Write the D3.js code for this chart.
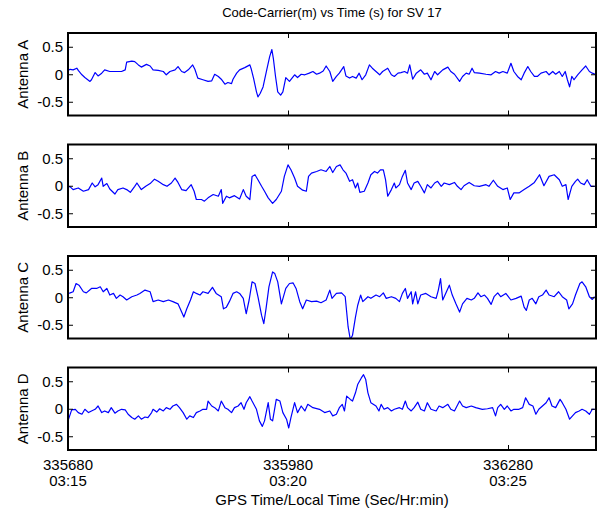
<!DOCTYPE html>
<html><head><meta charset="utf-8">
<script src="https://cdn.jsdelivr.net/npm/d3@7"></script>
<style>body{margin:0;background:#fff}svg{display:block}</style>
</head><body><svg id="c" width="605" height="512"></svg>
<script>
// ---- data ----
const T0 = 335680;                     // GPS seconds at start
const timeDomain = [335680, 336400];
const xTickValues = [335680, 335980, 336280];
const xTickLocal = ["03:15", "03:20", "03:25"];
const yTickValues = [-0.5, 0, 0.5];
const antennaNames = ["Antenna A", "Antenna B", "Antenna C", "Antenna D"];
const titleText = "Code-Carrier(m) vs Time (s) for SV 17";
const xLabelText = "GPS Time/Local Time (Sec/Hr:min)";

// [seconds after T0, code-carrier (m)]
const antennaA = [[0,0.07],[3,0.09],[7,0.08],[12,0.11],[14,0.07],[19,-0.01],[23,-0.06],[30,-0.13],[32,-0.10],[37,0.03],[41,-0.03],[46,0.02],[50,0.08],[57,0.05],[66,0.05],[73,0.05],[78,0.08],[80,0.22],[87,0.24],[91,0.23],[96,0.17],[100,0.13],[107,0.18],[112,0.15],[116,0.08],[123,0.07],[130,0.05],[134,-0.01],[139,0.05],[146,0.08],[150,0.14],[155,0.05],[159,0.03],[164,0.08],[170,0.17],[173,0.09],[177,-0.07],[184,-0.10],[191,-0.13],[196,-0.12],[200,0.0],[205,-0.04],[209,-0.09],[214,-0.18],[218,-0.15],[223,-0.17],[225,-0.09],[230,0.02],[234,0.08],[241,0.12],[248,0.17],[250,0.09],[253,-0.07],[257,-0.32],[259,-0.41],[262,-0.35],[266,-0.23],[271,0.08],[275,0.32],[278,0.45],[280,0.29],[283,-0.04],[286,-0.32],[290,-0.38],[293,-0.32],[297,-0.06],[302,-0.13],[309,-0.01],[313,-0.06],[318,0.0],[323,-0.01],[329,0.02],[334,0.05],[339,0.0],[343,0.02],[348,0.06],[352,0.15],[357,0.05],[361,-0.13],[366,-0.04],[370,0.02],[376,0.14],[379,-0.03],[384,-0.07],[388,-0.04],[393,-0.07],[397,0.02],[401,-0.10],[406,-0.01],[411,0.17],[415,0.11],[420,0.05],[425,-0.01],[429,0.05],[436,0.11],[441,-0.01],[445,-0.04],[450,0.02],[454,0.03],[459,0.05],[463,0.02],[466,0.17],[470,-0.09],[475,0.02],[481,0.08],[486,0.0],[490,0.02],[495,-0.10],[500,0.05],[504,-0.01],[511,0.08],[518,0.13],[522,0.05],[527,0.0],[534,-0.13],[538,-0.04],[543,0.02],[547,0.0],[551,0.11],[554,0.03],[561,0.02],[570,0.0],[577,-0.01],[583,0.05],[588,0.02],[593,0.05],[599,0.02],[604,0.20],[608,0.05],[613,-0.04],[618,-0.10],[622,0.02],[627,0.14],[631,0.05],[636,-0.04],[640,-0.04],[645,0.02],[652,0.05],[656,-0.01],[661,0.05],[665,0.0],[670,0.05],[674,-0.04],[678,0.05],[681,-0.10],[684,-0.23],[687,-0.04],[690,-0.10],[695,-0.01],[701,0.08],[706,0.15],[711,0.05],[715,0.02],[719,0.0]];

const antennaB = [[0,-0.01],[3,-0.02],[7,-0.07],[14,-0.04],[21,-0.10],[28,-0.07],[33,0.05],[37,-0.02],[41,0.02],[46,0.14],[48,-0.01],[53,0.04],[57,-0.06],[64,-0.15],[68,-0.07],[75,-0.04],[80,-0.07],[85,-0.12],[91,-0.01],[94,0.05],[100,-0.07],[106,-0.01],[112,0.04],[118,0.12],[123,0.08],[130,0.02],[135,-0.01],[141,0.05],[146,0.14],[150,0.06],[155,-0.07],[161,-0.09],[168,0.02],[172,-0.10],[175,-0.25],[182,-0.25],[186,-0.28],[191,-0.22],[198,-0.16],[205,-0.19],[209,-0.07],[211,-0.32],[216,-0.19],[220,-0.22],[227,-0.18],[234,-0.24],[239,-0.07],[243,-0.19],[248,-0.25],[251,0.17],[255,0.20],[259,0.11],[264,-0.01],[268,-0.10],[273,-0.22],[279,-0.32],[284,-0.25],[291,-0.10],[295,0.17],[300,0.38],[304,0.29],[309,0.14],[313,-0.01],[320,-0.08],[325,-0.10],[328,0.17],[332,0.23],[339,0.26],[345,0.29],[352,0.26],[357,0.35],[361,0.24],[366,0.35],[371,0.38],[375,0.29],[379,0.23],[384,0.08],[388,0.11],[392,-0.04],[395,0.05],[398,-0.12],[404,-0.10],[409,0.05],[413,0.20],[418,0.26],[422,0.23],[426,0.29],[430,0.29],[433,0.11],[436,-0.19],[441,-0.07],[445,0.05],[447,-0.04],[452,0.02],[456,0.17],[460,0.28],[463,0.05],[468,-0.07],[472,0.05],[477,0.08],[481,-0.01],[486,-0.13],[490,0.02],[495,-0.04],[500,0.05],[504,0.08],[509,-0.01],[513,0.05],[520,0.02],[527,0.06],[531,-0.01],[536,-0.07],[540,0.0],[547,0.06],[554,0.0],[561,-0.01],[570,0.02],[574,-0.01],[580,0.10],[586,-0.01],[593,-0.07],[599,-0.04],[603,-0.25],[608,-0.13],[615,-0.13],[622,-0.07],[629,-0.01],[636,0.06],[643,0.20],[649,0.0],[656,0.17],[663,0.20],[670,0.11],[674,-0.01],[679,0.02],[682,-0.25],[687,-0.01],[692,0.08],[695,0.12],[699,0.05],[704,0.02],[708,0.11],[713,-0.01],[718,-0.01]];

const antennaC = [[0,0.07],[3,0.08],[7,0.10],[11,0.25],[15,0.22],[21,0.10],[25,0.08],[32,0.16],[39,0.16],[44,0.19],[48,0.10],[53,0.16],[57,0.04],[62,0.07],[66,-0.02],[71,0.04],[75,0.01],[80,-0.05],[87,0.01],[94,0.04],[98,0.07],[105,0.13],[112,0.10],[116,-0.08],[123,-0.05],[130,-0.08],[137,-0.05],[143,-0.08],[150,-0.12],[155,-0.27],[158,-0.36],[162,-0.21],[167,-0.05],[171,0.10],[175,0.07],[180,0.04],[184,0.10],[191,0.07],[197,0.18],[202,0.07],[209,0.01],[212,-0.21],[216,-0.18],[220,-0.08],[225,0.07],[230,0.10],[234,0.07],[239,-0.02],[243,-0.30],[247,-0.05],[251,0.28],[255,0.25],[259,0.01],[264,-0.33],[267,-0.48],[270,-0.21],[274,0.19],[279,0.46],[282,0.43],[286,0.28],[291,-0.12],[297,0.16],[302,0.25],[307,0.26],[311,0.16],[316,-0.08],[320,-0.21],[325,-0.05],[332,-0.08],[339,-0.07],[345,-0.10],[352,-0.05],[357,0.13],[360,-0.02],[366,0.07],[373,0.08],[378,0.01],[382,-0.54],[385,-0.77],[388,-0.69],[392,-0.36],[395,-0.15],[399,0.04],[402,-0.08],[409,0.01],[413,-0.02],[420,0.04],[425,0.01],[430,0.08],[434,-0.02],[441,0.01],[447,-0.02],[452,-0.08],[456,0.07],[460,0.16],[463,-0.02],[468,0.10],[470,-0.12],[474,0.10],[477,-0.12],[481,0.04],[488,0.07],[495,0.01],[502,-0.02],[505,0.13],[508,0.34],[511,-0.05],[515,0.07],[520,0.22],[524,0.04],[529,-0.12],[534,-0.27],[538,-0.12],[544,-0.02],[550,-0.05],[554,-0.02],[559,0.08],[563,0.01],[568,0.04],[572,-0.02],[577,-0.13],[581,0.01],[586,0.08],[590,0.01],[597,0.07],[604,-0.05],[611,-0.02],[618,0.02],[622,-0.18],[625,-0.24],[629,-0.05],[633,-0.02],[638,-0.12],[642,0.01],[647,0.04],[652,0.13],[656,0.04],[663,0.01],[669,0.10],[674,0.01],[680,-0.05],[683,-0.21],[688,-0.12],[692,0.04],[698,0.25],[701,0.28],[706,0.19],[711,0.01],[715,-0.04],[718,0.01]];

const antennaD = [[0,-0.22],[5,-0.02],[10,-0.01],[14,-0.07],[19,-0.10],[23,-0.01],[28,-0.07],[32,-0.04],[37,-0.01],[41,0.05],[46,-0.07],[50,-0.04],[55,-0.07],[59,0.02],[64,-0.08],[68,-0.04],[73,-0.01],[78,-0.02],[82,-0.10],[87,-0.16],[91,-0.19],[96,-0.13],[100,-0.19],[105,-0.15],[109,-0.16],[114,-0.07],[116,-0.01],[121,-0.06],[125,0.0],[130,-0.04],[134,0.02],[139,-0.01],[143,0.05],[148,0.08],[152,0.02],[157,-0.07],[162,-0.19],[166,-0.13],[171,-0.16],[175,-0.07],[180,-0.04],[184,-0.01],[189,-0.01],[191,0.14],[196,0.05],[200,0.02],[205,-0.04],[209,0.14],[214,0.02],[218,-0.01],[223,-0.07],[227,0.02],[232,0.05],[236,0.11],[240,-0.01],[243,0.11],[248,0.22],[251,0.14],[257,-0.01],[261,-0.22],[265,-0.32],[268,-0.22],[273,0.11],[276,-0.19],[279,-0.22],[284,0.17],[289,0.14],[293,-0.07],[298,-0.19],[301,-0.35],[304,-0.16],[309,0.11],[313,-0.07],[318,0.05],[323,-0.04],[327,0.08],[334,0.02],[343,-0.01],[350,-0.07],[357,-0.04],[361,-0.13],[366,-0.10],[370,0.02],[374,0.08],[377,-0.04],[380,0.23],[385,0.17],[388,0.14],[392,0.29],[395,0.44],[400,0.56],[403,0.62],[406,0.53],[409,0.29],[413,0.11],[420,0.05],[424,-0.04],[427,0.08],[431,-0.01],[436,0.02],[441,-0.04],[445,-0.01],[452,0.02],[456,-0.01],[460,0.14],[463,0.02],[468,-0.04],[472,0.02],[477,0.12],[481,-0.01],[486,-0.04],[490,0.11],[495,-0.01],[502,-0.04],[506,0.05],[511,0.02],[518,0.08],[522,-0.01],[527,-0.04],[534,0.14],[538,0.05],[543,0.02],[550,0.05],[556,0.02],[565,-0.01],[572,0.0],[579,0.02],[583,-0.13],[586,0.02],[590,0.08],[595,-0.01],[599,0.05],[604,-0.04],[608,-0.01],[615,-0.01],[620,0.02],[624,0.20],[629,0.08],[634,0.05],[638,-0.10],[642,-0.01],[647,0.05],[652,0.11],[656,0.20],[660,0.05],[665,0.02],[671,0.17],[674,0.11],[679,-0.01],[684,-0.19],[688,-0.13],[692,-0.07],[697,-0.04],[701,-0.01],[706,-0.04],[711,-0.10],[715,-0.01],[718,-0.01]];

const seriesList = [antennaA, antennaB, antennaC, antennaD];

// ---- layout ----
const FONT = "'Liberation Sans', Arial, Helvetica, sans-serif";
const left = 68, right = 596;
const panelTop0 = 33, panelStep = 111.5, panelH = 82.5;
const svg = d3.select("#c").style("font-family", FONT);
const defs = svg.append("defs");

const x = d3.scaleLinear().domain(timeDomain).range([left, right]);

seriesList.forEach((data, i) => {
  const top = panelTop0 + i * panelStep;
  const bottom = top + panelH;
  const y = d3.scaleLinear().domain([-0.75, 0.75]).range([bottom, top]);
  const g = svg.append("g");

  const clipId = "clip" + i;
  defs.append("clipPath").attr("id", clipId)
    .append("rect").attr("x", left).attr("y", top).attr("width", right - left).attr("height", panelH);

  const line = d3.line().x(d => x(T0 + d[0])).y(d => y(d[1]));
  g.append("path").datum(data)
    .attr("clip-path", `url(#${clipId})`)
    .attr("fill", "none").attr("stroke", "#0000ff").attr("stroke-width", 1.2)
    .attr("stroke-linejoin", "round")
    .attr("d", line);

  // axes with inward ticks
  const axL = g.append("g").attr("transform", `translate(${left},0)`)
    .call(d3.axisLeft(y).tickValues(yTickValues).tickSize(-5).tickPadding(5).tickFormat(d => String(d)));
  const axR = g.append("g").attr("transform", `translate(${right},0)`)
    .call(d3.axisRight(y).tickValues(yTickValues).tickSize(-5).tickFormat(""));
  const axT = g.append("g").attr("transform", `translate(0,${top})`)
    .call(d3.axisTop(x).tickValues(xTickValues).tickSize(-5).tickFormat(""));
  const axB = g.append("g").attr("transform", `translate(0,${bottom})`)
    .call(d3.axisBottom(x).tickValues(xTickValues).tickSize(-5).tickFormat(""));
  [axL, axR, axT, axB].forEach(a => {
    a.select(".domain").remove();
    a.selectAll("line").attr("stroke", "#000").attr("stroke-width", 1);
    a.selectAll("text").attr("fill", "#000").style("font-size", "15px").style("font-family", FONT);
  });
  axR.selectAll("text").remove();
  axT.selectAll("text").remove();
  axB.selectAll("text").remove();

  // frame
  g.append("rect").attr("x", left).attr("y", top).attr("width", right - left).attr("height", panelH)
    .attr("fill", "none").attr("stroke", "#000").attr("stroke-width", 2);

  // y label
  g.append("text")
    .attr("transform", `translate(28,${(top + bottom) / 2}) rotate(-90)`)
    .attr("text-anchor", "middle").style("font-size", "15px").attr("fill", "#000")
    .text(antennaNames[i]);

  if (i === seriesList.length - 1) {
    g.append("g").selectAll("text").data(xTickValues).join("text")
      .attr("text-anchor", "middle").style("font-size", "15px").attr("fill", "#000")
      .attr("x", d => x(d)).attr("y", bottom + 20).text(d => d);
    g.append("g").selectAll("text").data(xTickValues).join("text")
      .attr("text-anchor", "middle").style("font-size", "15px").attr("fill", "#000")
      .attr("x", d => x(d)).attr("y", bottom + 36).text((d, k) => xTickLocal[k]);
  }
});

svg.append("text").attr("x", (left + right) / 2).attr("y", 17)
  .attr("text-anchor", "middle").style("font-size", "13px").attr("fill", "#000").text(titleText);
svg.append("text").attr("x", (left + right) / 2).attr("y", 505)
  .attr("text-anchor", "middle").style("font-size", "15px").attr("fill", "#000").text(xLabelText);
</script></body></html>
